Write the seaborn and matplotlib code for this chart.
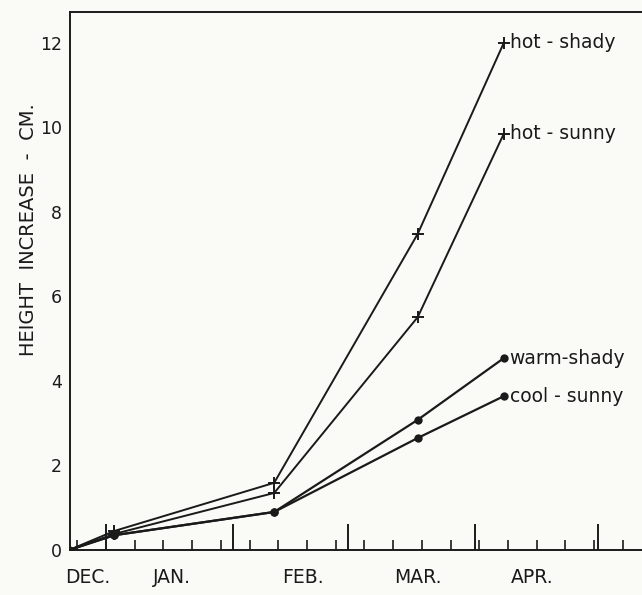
import pandas as pd
import matplotlib.pyplot as plt
import seaborn as sns
from matplotlib.ticker import MultipleLocator, FixedLocator, NullFormatter

sns.set_theme(style="ticks")
plt.rcParams['font.family'] = ['DejaVu Sans']

# days counted from Jan 1
days = [-9, 2, 41, 76, 97]
hot_shady = [0, 0.45, 1.59, 7.48, 12.0]
hot_sunny = [0, 0.38, 1.35, 5.51, 9.85]
warm_shady = [0, 0.35, 0.90, 3.08, 4.54]
cool_sunny = [0, 0.35, 0.90, 2.65, 3.64]

series_names = ['hot - shady', 'hot - sunny', 'warm-shady', 'cool - sunny']
series_values = [hot_shady, hot_sunny, warm_shady, cool_sunny]
series_markers = ['+', '+', 'o', 'o']

month_labels = ['DEC.', 'JAN.', 'FEB.', 'MAR.', 'APR.']
month_label_days = [-4.4, 16, 48, 76, 104]
month_starts = [0, 31, 59, 90, 120]

ink = '#1a1a1a'
bg = '#fafaf6'
fig = plt.figure(figsize=(6.42, 5.95), dpi=100, facecolor=bg)
ax = fig.add_axes([70 / 642, 45 / 595, 572 / 642, 538 / 595], facecolor=bg)

for name, vals, mk in zip(series_names, series_values, series_markers):
    df = pd.DataFrame({'day': days, 'height': vals})
    if mk == '+':
        sns.lineplot(data=df, x='day', y='height', marker='+', markersize=8,
                     markeredgewidth=1.4, markeredgecolor=ink, color=ink,
                     linewidth=1.4, ax=ax)
    else:
        sns.lineplot(data=df, x='day', y='height', marker='o', markersize=6,
                     markeredgewidth=0, markerfacecolor=ink, color=ink,
                     linewidth=1.6, ax=ax)
    ax.text(days[-1] + 1.4, vals[-1], name, fontsize=13.5, va='center',
            ha='left', color=ink)

ax.set_xlim(-8.8, 130.7)
ax.set_ylim(0, 12.73)

# month boundaries (tall) and weekly ticks (short), pointing inward
ax.xaxis.set_major_locator(FixedLocator(month_starts))
ax.xaxis.set_major_formatter(NullFormatter())
ax.xaxis.set_minor_locator(MultipleLocator(7))
ax.tick_params(axis='x', which='major', direction='in', length=19, width=1.4, color=ink)
ax.tick_params(axis='x', which='minor', direction='in', length=7, width=1.2, color=ink)

for lab, d in zip(month_labels, month_label_days):
    ax.text(d, -0.052, lab, transform=ax.get_xaxis_transform(), ha='center',
            va='center', fontsize=13.5, color=ink)

ax.set_yticks(range(0, 13, 2))
ax.tick_params(axis='y', length=0, pad=6, labelsize=12.5, labelcolor=ink)

ax.set_xlabel('')
ax.set_ylabel('HEIGHT  INCREASE  -  CM.', fontsize=14, color=ink)
ax.yaxis.set_label_coords(-0.056, 0.595)

for side in ['left', 'bottom', 'top']:
    ax.spines[side].set_color(ink)
    ax.spines[side].set_linewidth(1.4)
ax.spines['right'].set_visible(False)

plt.savefig('out.png', dpi=100, facecolor=bg)
